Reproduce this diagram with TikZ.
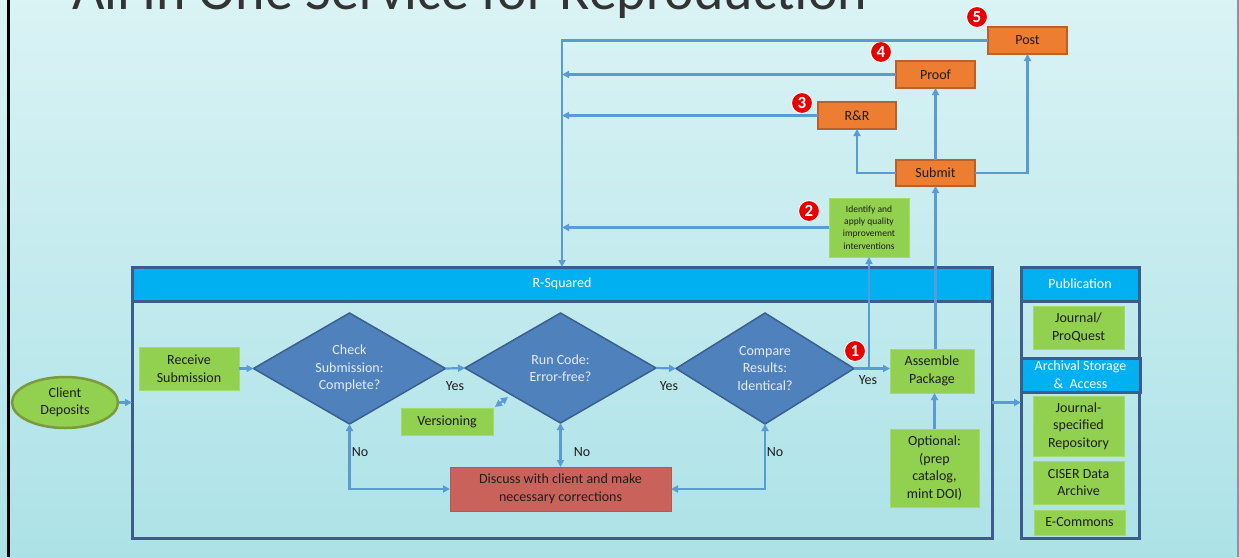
\documentclass[tikz,border=0pt]{standalone}
\usepackage{fontspec}
\setmainfont{Carlito}
\usetikzlibrary{shapes.geometric,arrows.meta,calc}
\definecolor{bgtop}{HTML}{DAF3F5}
\definecolor{bgbot}{HTML}{ACE2E7}
\definecolor{grn}{HTML}{92D050}
\definecolor{grnb}{HTML}{A6D86E}
\definecolor{elb}{HTML}{7B9A3C}
\definecolor{hdr}{HTML}{00B0F0}
\definecolor{frm}{HTML}{3B5C8C}
\definecolor{dia}{HTML}{4F81BD}
\definecolor{diab}{HTML}{3A5F8F}
\definecolor{diatxt}{HTML}{E4EBF5}
\definecolor{org}{HTML}{ED7D31}
\definecolor{orgb}{HTML}{B8612A}
\definecolor{redbox}{HTML}{C9625A}
\definecolor{conn}{HTML}{5B9BD5}
\definecolor{txt}{HTML}{1E1E1E}
\definecolor{badge}{HTML}{E60000}
\begin{document}
\begin{tikzpicture}[x=1pt,y=-1pt,
  every node/.style={inner sep=0pt,outer sep=0pt},
  fs/.style={font=\fontsize{14}{17.5}\selectfont},
  gbox/.style={fs,fill=grn,draw=grnb,line width=0.6pt,align=center,text=txt},
  obox/.style={fs,fill=org,draw=orgb,line width=1.2pt,align=center,text=txt},
  dbox/.style={diamond,aspect=1.73,fill=dia,draw=diab,line width=1.5pt,align=center,text=diatxt,fs},
  hbox/.style={fs,fill=hdr,draw=frm,line width=3pt,text=white,align=center},
  framebox/.style={draw=frm,line width=3pt},
  lbl/.style={fs,text=txt},
  cn/.style={draw=conn,line width=2.2pt,-{Triangle[length=7pt,width=7pt]}},
  cnboth/.style={draw=conn,line width=2.2pt,{Triangle[length=7pt,width=7pt]}-{Triangle[length=7pt,width=7pt]}},
  badgenode/.style={circle,fill=badge,draw=white,line width=1pt,minimum size=21pt,text=white,font=\fontsize{17}{17}\selectfont\bfseries}
]
\useasboundingbox (0,0) rectangle (1239,557);
\clip (0,0) rectangle (1239,557);
\shade[top color=bgtop,bottom color=bgbot] (0,0) rectangle (1239,557);
\fill[black] (7,0) rectangle (10,557);
\fill[black!30!bgbot] (1237,0) rectangle (1239,557);

% title (cut off by the top edge, as in the reference)
\node[anchor=base west,font=\fontsize{56}{60}\selectfont,text=black!80] (title) at (72,9) {All In One Service for Reproduction};

% R-Squared frame
\node[framebox,minimum width=860pt,minimum height=271pt] (rsq) at (562,402.5) {};
\node[hbox,minimum width=860pt,minimum height=34pt] (rsqh) at (562,284) {R-Squared};

% publication column
\node[framebox,minimum width=118pt,minimum height=271pt] (pub) at (1080,402.5) {};
\node[hbox,minimum width=118pt,minimum height=34pt] (pubh) at (1080,284) {Publication};
\node[hbox,minimum width=119pt,minimum height=34pt,font=\fontsize{14}{18}\selectfont] (arch) at (1080.5,375) {Archival Storage\\\&\ \ Access};
\node[gbox,minimum width=91pt,minimum height=43pt] (jpq) at (1078.5,327.5) {Journal/\\ProQuest};
\node[gbox,minimum width=91pt,minimum height=60pt] (jsr) at (1078.5,426) {Journal-\\specified\\Repository};
\node[gbox,minimum width=91pt,minimum height=43pt] (ciser) at (1078.5,482.5) {CISER Data\\Archive};
\node[gbox,minimum width=91pt,minimum height=25pt] (ecom) at (1079.5,522.5) {E-Commons};

% main flow
\node[ellipse,fill=grn,draw=elb,line width=2.5pt,minimum width=106pt,minimum height=51pt,fs,align=center,text=txt] (client) at (65,402.5) {Client\\Deposits};
\node[gbox,minimum width=100pt,minimum height=43pt] (recv) at (189,368.5) {Receive\\Submission};
\node[dbox,minimum width=192pt,minimum height=111pt] (d1) at (349.5,368.5) {Check\\Submission:\\Complete?};
\node[dbox,minimum width=191pt,minimum height=110pt] (d2) at (560.5,368) {Run Code:\\Error-free?};
\node[dbox,aspect=1.6,minimum width=178pt,minimum height=111pt] (d3) at (765,368.5) {Compare\\Results:\\Identical?};
\node[gbox,minimum width=92pt,minimum height=27pt] (vers) at (447,421.5) {Versioning};
\node[fs,fill=redbox,draw=redbox!90!black,line width=0.6pt,align=center,text=txt,minimum width=221pt,minimum height=44pt] (disc) at (560.5,489) {Discuss with client and make\\necessary corrections};
\node[gbox,minimum width=84pt,minimum height=44pt] (asm) at (932,371) {Assemble\\Package};
\node[gbox,minimum width=89pt,minimum height=78pt] (opt) at (934.5,468) {Optional:\\(prep\\catalog,\\mint DOI)};

% upper boxes
\node[gbox,minimum width=80pt,minimum height=59pt,font=\fontsize{9.5}{12.3}\selectfont] (idf) at (869,227.5) {Identify and\\apply quality\\improvement\\interventions};
\node[obox,minimum width=79pt,minimum height=26pt] (sub) at (935.5,173) {Submit};
\node[obox,minimum width=78pt,minimum height=27pt] (rr) at (857,115.5) {R\&R};
\node[obox,minimum width=79pt,minimum height=27pt] (proof) at (935.5,74.5) {Proof};
\node[obox,minimum width=79pt,minimum height=27pt] (post) at (1027.5,40.5) {Post};

% badges
\node[badgenode] (b1) at (855,351) {1};
\node[badgenode] (b2) at (809,211) {2};
\node[badgenode] (b3) at (802,103) {3};
\node[badgenode] (b4) at (881,52) {4};
\node[badgenode] (b5) at (977,17) {5};

% connectors
\draw[cn] (client.east) -- (rsq.west |- client.east);
\draw[cn] (recv.east) -- (d1.west);
\draw[cn] (d1.east) -- (d2.west);
\draw[cn] (d2.east) -- (d3.west);
\draw[cn] (d3.east) -- (asm.west |- d3.east);
\draw[cn] (idf.south |- d3.east) -- (idf.south);
\draw[cn] (sub.south |- asm.north) -- (sub.south);
\draw[cn] (opt.north) -- (opt.north |- asm.south);
\draw[cn] (sub.north) -- (proof.south);
\draw[cn] (sub.west) -| (rr.south);
\draw[cn] (sub.east) -| (post.south);
\draw[cn] (post.west) -| (rsqh.north);
\draw[cn] (proof.west) -- (proof.west -| rsqh.north);
\draw[cn] (rr.west) -- (rr.west -| rsqh.north);
\draw[cn] (idf.west) -- (idf.west -| rsqh.north);
\draw[cnboth] (d1.south) |- (disc.west);
\draw[cnboth] (d2.south) -- (disc.north);
\draw[cnboth] (d3.south) |- (disc.east);
\draw[cnboth] ($(vers.north east)+(2,-1)$) -- ($(vers.north east)+(15,-11)$);
\draw[cn] (rsq.east) -- (pub.west);

% labels
\node[lbl] (y1) at (455,386) {Yes};
\node[lbl] (y2) at (669,386) {Yes};
\node[lbl] (y3) at (868,380) {Yes};
\node[lbl] (n1) at (360,452) {No};
\node[lbl] (n2) at (582,452) {No};
\node[lbl] (n3) at (775,452) {No};
\end{tikzpicture}
\end{document}
